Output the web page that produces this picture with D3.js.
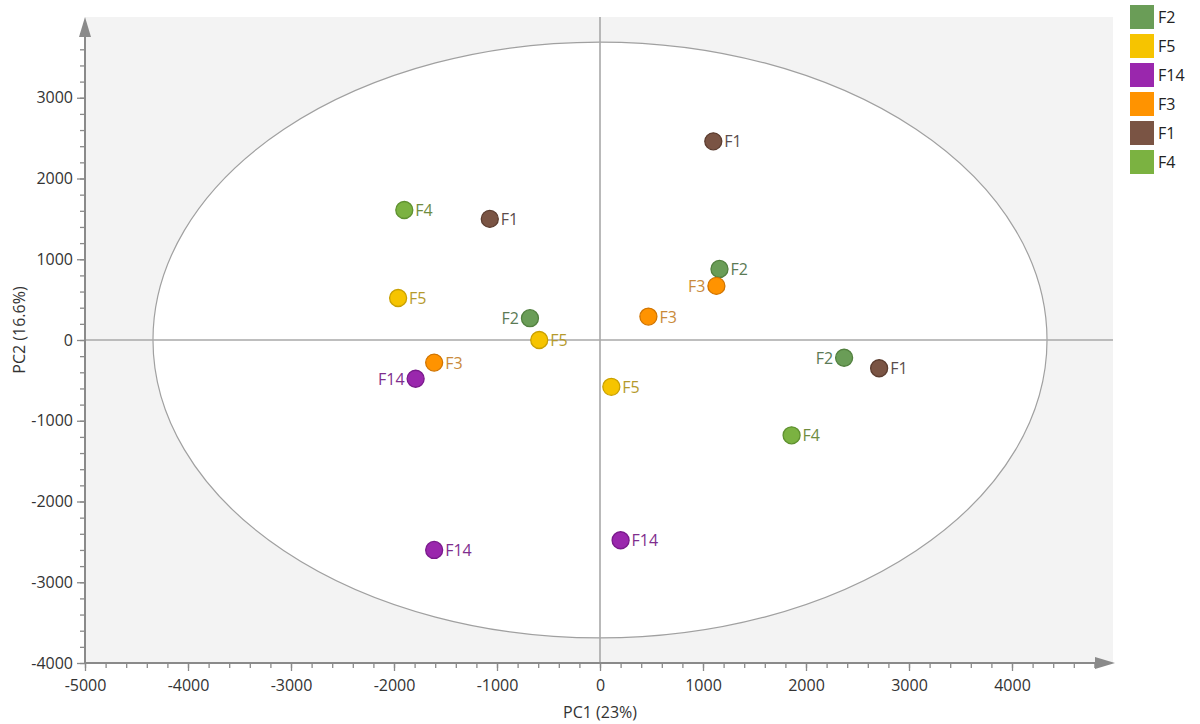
<!DOCTYPE html>
<html>
<head>
<meta charset="utf-8">
<script src="https://cdn.jsdelivr.net/npm/d3@7"></script>
<style>
  html, body { margin: 0; padding: 0; background: #fff; }
  svg text { font-family: "Open Sans", "Noto Sans", sans-serif; }
</style>
</head>
<body>
<svg id="chart" width="1200" height="724"></svg>
<script>
// Groups in legend order, with marker fill and label colour
const groups = ["F2", "F5", "F14", "F3", "F1", "F4"];
const groupFill = ["#6a9d57", "#f6c400", "#9a27ad", "#ff9300", "#7a5444", "#7bb241"];
const groupStroke = ["#52803f", "#c9a000", "#7a1a8c", "#d07400", "#5c3d30", "#5f9130"];
const groupText = ["#5b7a55", "#b59a2c", "#7f2e8e", "#c98a3a", "#5a4c4c", "#6f8c3f"];

// Score points: group, PC1, PC2, label side
const pointGroup = ["F4", "F1", "F1", "F2", "F3", "F3", "F5", "F2", "F5", "F3", "F14", "F5", "F2", "F1", "F4", "F14", "F14"];
const pc1 = [-1900, -1070, 1100, 1160, 1130, 470, -1960, -680, -590, -1610, -1790, 110, 2370, 2710, 1860, -1610, 200];
const pc2 = [1610, 1500, 2460, 880, 670, 290, 520, 270, 0, -280, -480, -580, -220, -350, -1180, -2600, -2480];
const labelSide = ["r", "r", "r", "r", "l", "r", "r", "l", "r", "r", "l", "r", "l", "r", "r", "r", "r"];

// Axis settings
const xDomain = [-5000, 5000];
const yDomain = [-4000, 4000];
const xTicks = [-5000, -4000, -3000, -2000, -1000, 0, 1000, 2000, 3000, 4000];
const yTicks = [-4000, -3000, -2000, -1000, 0, 1000, 2000, 3000];
const xTitle = "PC1 (23%)";
const yTitle = "PC2 (16.6%)";
// Confidence ellipse half-axes in data units
const ellipseRx = 4340;
const ellipseRy = 3690;

const svg = d3.select("#chart");
const mLeft = 85, mRight = 1115, mTop = 17, mBottom = 663;

const x = d3.scaleLinear().domain(xDomain).range([mLeft, mRight]);
const y = d3.scaleLinear().domain(yDomain).range([mBottom, mTop]);
const plainNum = d => String(d);

// Plot background
svg.append("rect")
  .attr("x", mLeft).attr("y", mTop)
  .attr("width", mRight - 2 - mLeft).attr("height", mBottom - mTop)
  .attr("fill", "#f3f3f3");

// Ellipse
svg.append("ellipse")
  .attr("cx", x(0)).attr("cy", y(0))
  .attr("rx", x(ellipseRx) - x(0))
  .attr("ry", y(0) - y(ellipseRy))
  .attr("fill", "#ffffff")
  .attr("stroke", "#a0a0a0")
  .attr("stroke-width", 1.2);

// Zero lines
svg.append("line")
  .attr("x1", mLeft).attr("x2", mRight - 2)
  .attr("y1", y(0)).attr("y2", y(0))
  .attr("stroke", "#a8a8a8").attr("stroke-width", 1.6);
svg.append("line")
  .attr("x1", x(0)).attr("x2", x(0))
  .attr("y1", mTop).attr("y2", mBottom)
  .attr("stroke", "#a8a8a8").attr("stroke-width", 1.6);

const axisColor = "#8a8a8a";

// X axis with minor ticks
const gx = svg.append("g").attr("transform", `translate(0,${mBottom})`);
gx.call(d3.axisBottom(x).tickValues(d3.range(-5000, 5000, 200)).tickSize(5).tickFormat(""))
  .call(g => g.select(".domain").remove());
gx.append("g").call(d3.axisBottom(x).tickValues(xTicks).tickSize(8).tickPadding(9).tickFormat(plainNum))
  .call(g => g.select(".domain").remove());
gx.selectAll("line").attr("stroke", axisColor).attr("stroke-width", 1.3);
gx.selectAll("text").attr("fill", "#333").style("font-size", "16px");
svg.append("line")
  .attr("x1", mLeft).attr("x2", mRight - 14).attr("y1", mBottom).attr("y2", mBottom)
  .attr("stroke", axisColor).attr("stroke-width", 2);
svg.append("path")
  .attr("d", `M${mRight - 20},${mBottom - 6}L${mRight},${mBottom}L${mRight - 20},${mBottom + 6}Z`)
  .attr("fill", axisColor);

// Y axis with minor ticks
const gy = svg.append("g").attr("transform", `translate(${mLeft},0)`);
gy.call(d3.axisLeft(y).tickValues(d3.range(-4000, 3801, 200)).tickSize(5).tickFormat(""))
  .call(g => g.select(".domain").remove());
gy.append("g").call(d3.axisLeft(y).tickValues(yTicks).tickSize(8).tickPadding(4).tickFormat(plainNum))
  .call(g => g.select(".domain").remove());
gy.selectAll("line").attr("stroke", axisColor).attr("stroke-width", 1.3);
gy.selectAll("text").attr("fill", "#333").style("font-size", "16px");
svg.append("line")
  .attr("x1", mLeft).attr("x2", mLeft).attr("y1", mBottom).attr("y2", mTop + 14)
  .attr("stroke", axisColor).attr("stroke-width", 2);
svg.append("path")
  .attr("d", `M${mLeft - 6},${mTop + 20}L${mLeft},${mTop}L${mLeft + 6},${mTop + 20}Z`)
  .attr("fill", axisColor);

// Axis titles
svg.append("text")
  .attr("x", x(0)).attr("y", 718)
  .attr("text-anchor", "middle")
  .attr("fill", "#333").style("font-size", "16px")
  .text(xTitle);
svg.append("text")
  .attr("transform", `translate(25,${y(0) - 10}) rotate(-90)`)
  .attr("text-anchor", "middle")
  .attr("fill", "#333").style("font-size", "16px")
  .text(yTitle);

// Points
const pts = pointGroup.map((g, i) => ({ g, px: pc1[i], py: pc2[i], side: labelSide[i], gi: groups.indexOf(g) }));
const gp = svg.append("g");
gp.selectAll("circle").data(pts).join("circle")
  .attr("cx", d => x(d.px)).attr("cy", d => y(d.py))
  .attr("r", 8.5)
  .attr("fill", d => groupFill[d.gi])
  .attr("stroke", d => groupStroke[d.gi])
  .attr("stroke-width", 1.3);
gp.selectAll("text").data(pts).join("text")
  .attr("x", d => x(d.px) + (d.side === "r" ? 11 : -11))
  .attr("y", d => y(d.py) + 6)
  .attr("text-anchor", d => d.side === "r" ? "start" : "end")
  .attr("fill", d => groupText[d.gi])
  .style("font-size", "16px")
  .text(d => d.g);

// Legend
const lg = svg.append("g").attr("transform", "translate(1130,5)");
const items = lg.selectAll("g").data(groups).join("g")
  .attr("transform", (d, i) => `translate(0,${i * 29})`);
items.append("rect")
  .attr("width", 24).attr("height", 24)
  .attr("fill", (d, i) => groupFill[i]);
items.append("text")
  .attr("x", 28).attr("y", 18)
  .attr("fill", "#222").style("font-size", "16px")
  .text(d => d);
</script>
</body>
</html>
